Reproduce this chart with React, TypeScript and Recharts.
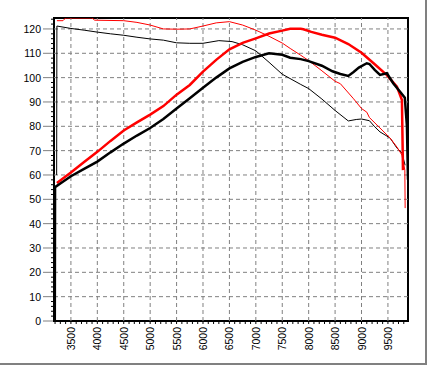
import { LineChart, Line, XAxis, YAxis, ReferenceLine, ReferenceArea } from 'recharts'

// engine 1 (black) and engine 2 (red): thick = power, thin = torque
const rpmPowerBlack = [3195, 3200, 3300, 3500, 3750, 4000, 4250, 4500, 4750, 5000, 5250, 5500, 5750, 6000, 6250, 6500, 6750, 7000, 7250, 7500, 7650, 7850, 8000, 8250, 8450, 8600, 8750, 8850, 8950, 9100, 9150, 9250, 9350, 9480, 9600, 9730, 9820, 9860, 9880]
const powerBlack = [0, 55, 56.5, 59.5, 62.5, 65.5, 69.3, 72.9, 76.2, 79.3, 83, 87.3, 91.5, 95.8, 100, 103.8, 106.5, 108.5, 110, 109.4, 108.2, 107.6, 106.8, 104.9, 102.6, 101.5, 100.7, 102.3, 104.1, 105.9, 105.6, 103.2, 101.1, 101.8, 97.7, 94.2, 91.7, 80, 58]

const rpmPowerRed = [3235, 3500, 3750, 4000, 4250, 4500, 4750, 5000, 5250, 5500, 5750, 6000, 6250, 6500, 6750, 7000, 7250, 7500, 7650, 7850, 7900, 8050, 8250, 8500, 8750, 9000, 9250, 9480, 9670, 9765, 9785]
const powerRed = [56.7, 61, 65.3, 69.5, 74, 78.3, 81.6, 84.8, 88.3, 93, 97, 102.5, 107.3, 111.6, 114.3, 116.1, 118.1, 119.3, 120.1, 120.1, 119.9, 118.8, 117.6, 116.4, 113.8, 110.2, 105.5, 101, 96.3, 90.8, 62]

const rpmTorqueRed = [3235, 3350, 3400, 3900, 3950, 4500, 4750, 5000, 5250, 5500, 5750, 6000, 6250, 6500, 6750, 7000, 7250, 7500, 7650, 7850, 8000, 8250, 8500, 8600, 8850, 9000, 9100, 9150, 9350, 9540, 9670, 9765, 9820, 9826]
const torqueRed = [123.4, 123.4, 124.5, 124.5, 123.6, 123.4, 122.7, 121.6, 120, 119.9, 120, 121.2, 122.5, 123, 121.6, 119.5, 117, 114.2, 112, 109.2, 107, 102.8, 98.5, 97.5, 91.3, 87.3, 85.8, 83.6, 79.3, 75.2, 71.5, 68.2, 62, 46.4]

const rpmTorqueBlack = [3230, 3235, 3500, 3750, 4000, 4250, 4500, 4750, 5000, 5250, 5500, 5750, 6000, 6300, 6550, 6750, 7000, 7250, 7500, 7850, 8000, 8250, 8500, 8750, 8900, 9000, 9150, 9250, 9350, 9540, 9670, 9765, 9825]
const torqueBlack = [60, 121.2, 120.2, 119.5, 118.7, 118, 117.4, 116.6, 115.9, 115.4, 114.3, 114.1, 114.1, 115.2, 114.8, 113.5, 111, 106.3, 101.4, 97.2, 95.5, 91.2, 86.5, 82.2, 82.8, 83, 82.3, 79.8, 77.7, 75.2, 71.1, 69, 64]

const rpmLabels = [3500, 4000, 4500, 5000, 5500, 6000, 6500, 7000, 7500, 8000, 8500, 9000, 9500]
const yLabels = [0, 10, 20, 30, 40, 50, 60, 70, 80, 90, 100, 110, 120]

const X_MIN = 3180
const X_MAX = 9880
const Y_MAX = 124.5

const xMinor: number[] = []
for (let v = 3200; v <= 9800; v += 100) xMinor.push(v)
const yMinor: number[] = []
for (let v = 0; v <= 124; v += 2) yMinor.push(v)

const zip = (xs: number[], ys: number[]) => xs.map((rpm, i) => ({ rpm, v: ys[i] }))

const FONT = '"Liberation Sans", Arial, sans-serif'

function XTick(props: any) {
  const { x, y, payload } = props
  const v = payload.value
  const major = rpmLabels.includes(v)
  return (
    <g>
      <line x1={x} y1={y + 1} x2={x} y2={y + 3} stroke='#000' />
      {major && (
        <text
          x={x}
          y={y + 6}
          transform={`rotate(-90 ${x} ${y + 6})`}
          textAnchor='end'
          dominantBaseline='central'
          fontSize={10.5}
          fontFamily={FONT}
          fill='#000'
        >
          {v}
        </text>
      )}
    </g>
  )
}

function YTick(props: any) {
  const { x, y, payload } = props
  const v = payload.value
  const major = v % 10 === 0
  return (
    <g>
      {major ? (
        <line x1={x - 11} y1={y} x2={x - 1} y2={y} stroke='#808080' />
      ) : (
        <line x1={x - 3} y1={y} x2={x - 1} y2={y} stroke='#000' />
      )}
      {major && (
        <text x={x - 13} y={y} textAnchor='end' dominantBaseline='central' fontSize={10.5} fontFamily={FONT} fill='#000'>
          {v}
        </text>
      )}
    </g>
  )
}

export default function App() {
  return (
    <div style={{ position: 'absolute', left: 0, top: 0, width: 429, height: 365, background: '#fff' }}>
      <div
        style={{
          position: 'absolute', left: 0, top: 0, width: 427, height: 365,
          borderRight: '2px solid #808080', borderBottom: '2px solid #808080', boxSizing: 'border-box',
        }}
      />
      <div style={{ position: 'absolute', left: 0, top: 0 }}>
        <LineChart width={429} height={365} margin={{ top: 18, right: 21, bottom: 0, left: 0 }}>
          <XAxis
            dataKey='rpm'
            type='number'
            domain={[X_MIN, X_MAX]}
            allowDataOverflow
            ticks={xMinor}
            interval={0}
            tickSize={0}
            tickMargin={0}
            axisLine={false}
            tickLine={false}
            tick={<XTick />}
            height={44}
          />
          <YAxis
            type='number'
            domain={[0, Y_MAX]}
            allowDataOverflow
            ticks={yMinor}
            interval={0}
            tickSize={0}
            tickMargin={0}
            axisLine={false}
            tickLine={false}
            tick={<YTick />}
            width={54}
          />
          {rpmLabels.map((r) => (
            <ReferenceLine key={'gx' + r} x={r} stroke='#808080' strokeDasharray='4 3' />
          ))}
          {yLabels.filter((v) => v > 0).map((v) => (
            <ReferenceLine key={'gy' + v} y={v} stroke='#808080' strokeDasharray='4 3' />
          ))}
          <Line data={zip(rpmTorqueBlack, torqueBlack)} dataKey='v' type='linear' stroke='#000' strokeWidth={1} dot={false} isAnimationActive={false} />
          <Line data={zip(rpmTorqueRed, torqueRed)} dataKey='v' type='linear' stroke='#ff0000' strokeWidth={1} dot={false} isAnimationActive={false} />
          <Line data={zip(rpmPowerRed, powerRed)} dataKey='v' type='linear' stroke='#ff0000' strokeWidth={2.5} dot={false} isAnimationActive={false} />
          <Line data={zip(rpmPowerBlack, powerBlack)} dataKey='v' type='linear' stroke='#000' strokeWidth={2.5} dot={false} isAnimationActive={false} />
          <ReferenceArea x1={X_MIN} x2={X_MAX} y1={0} y2={Y_MAX} fill='none' stroke='#000' strokeWidth={2} />
        </LineChart>
      </div>
    </div>
  )
}
